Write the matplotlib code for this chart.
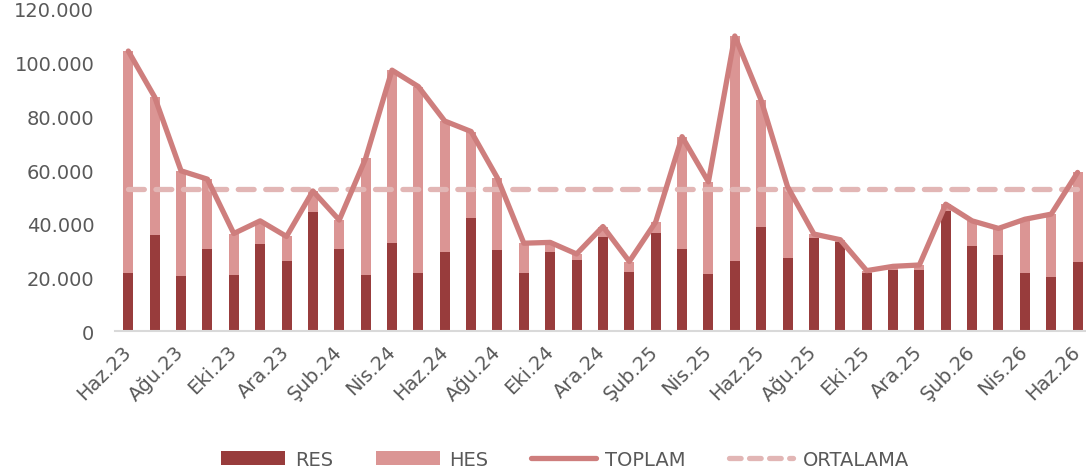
import matplotlib
matplotlib.use("Agg")
import matplotlib.pyplot as plt
from matplotlib.lines import Line2D
from matplotlib.patches import Patch
import numpy as np

months = ["Haz.23", "Tem.23", "Ağu.23", "Eyl.23", "Eki.23", "Kas.23", "Ara.23",
          "Oca.24", "Şub.24", "Mar.24", "Nis.24", "May.24", "Haz.24", "Tem.24",
          "Ağu.24", "Eyl.24", "Eki.24", "Kas.24", "Ara.24", "Oca.25", "Şub.25",
          "Mar.25", "Nis.25", "May.25", "Haz.25", "Tem.25", "Ağu.25", "Eyl.25",
          "Eki.25", "Kas.25", "Ara.25", "Oca.26", "Şub.26", "Mar.26", "Nis.26",
          "May.26", "Haz.26"]

res = [21700, 35800, 20600, 30700, 21000, 32500, 26200, 44300, 30700, 21000,
       32800, 21700, 29500, 42100, 30200, 21700, 29500, 26500, 35200, 22100,
       36700, 30700, 21500, 26300, 39000, 27300, 34800, 33100, 21700, 22900,
       22900, 44600, 31800, 28400, 21600, 20300, 25700]

toplam = [104200, 87100, 59700, 56600, 36400, 41100, 35300, 52200, 41400, 64300,
          97100, 91000, 78200, 74300, 57000, 32800, 33100, 28800, 39000, 26000,
          40700, 72400, 55600, 109800, 85900, 53800, 36200, 34100, 22600, 24200,
          24700, 47300, 41100, 38300, 41700, 43600, 59100]

hes = [t - r for t, r in zip(toplam, res)]

ortalama = 53000

c_res = "#983C3C"
c_hes = "#DB9594"
c_line = "#CE7E7D"
c_avg = "#E2B6B5"
c_text = "#595959"

fig = plt.figure(figsize=(10.86, 4.77), dpi=100)
ax = fig.add_axes([0.106, 0.303, 0.8984, 0.677])

x = np.arange(len(months))
w = 0.38
ax.bar(x, res, width=w, color=c_res, zorder=2)
ax.bar(x, hes, width=w, bottom=res, color=c_hes, zorder=2)
ax.plot(x, toplam, color=c_line, lw=3.8, solid_joinstyle="round",
        solid_capstyle="round", zorder=3)
ax.plot(x, [ortalama] * len(x), color=c_avg, lw=3.8, dashes=(3.0, 2.2),
        dash_capstyle="round", zorder=2.5)

ax.set_xlim(-0.5, len(months) - 0.5)
ax.set_ylim(0, 120000)
ax.set_yticks(range(0, 120001, 20000))
ax.set_yticklabels(["0" if v == 0 else f"{v // 1000}.000" for v in range(0, 120001, 20000)])

ax.set_xticks(x[::2])
ax.set_xticklabels(months[::2], rotation=45, ha="right", va="center",
                   rotation_mode="anchor")

for s in ["top", "right", "left"]:
    ax.spines[s].set_visible(False)
ax.spines["bottom"].set_color("#D9D9D9")
ax.spines["bottom"].set_linewidth(1.5)
ax.tick_params(axis="both", length=0, colors=c_text, labelsize=14)
ax.tick_params(axis="y", pad=15)
ax.tick_params(axis="x", pad=12)

handles = [Patch(facecolor=c_res, label="RES"),
           Patch(facecolor=c_hes, label="HES"),
           Line2D([0], [0], color=c_line, lw=3.8, solid_capstyle="round", label="TOPLAM"),
           Line2D([0], [0], color=c_avg, lw=3.8, dashes=(2.2, 1.6),
                  dash_capstyle="round", label="ORTALAMA")]
leg = fig.legend(handles=handles, loc="center", bbox_to_anchor=(0.52, 0.035),
                 ncol=4, frameon=False, fontsize=14, handlelength=3.3,
                 handleheight=0.8, columnspacing=2.2, handletextpad=0.5)
for t in leg.get_texts():
    t.set_color(c_text)

fig.savefig("out.png", dpi=100)
